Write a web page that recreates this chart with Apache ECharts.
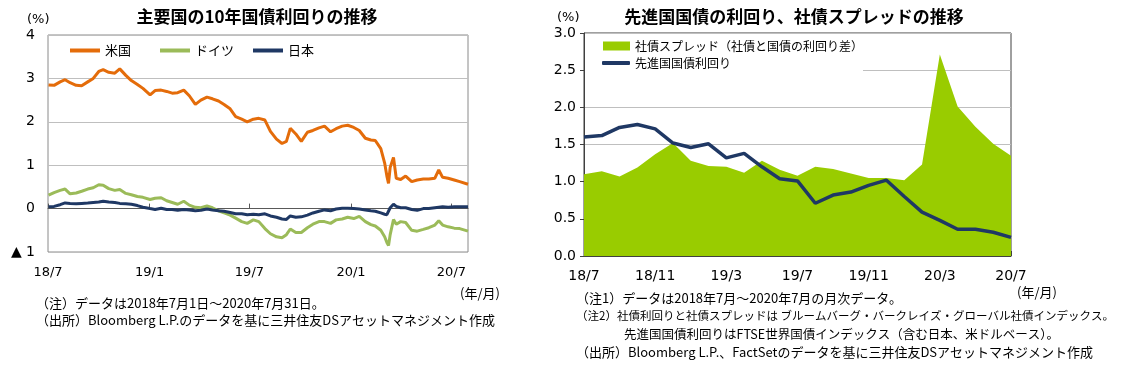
<!DOCTYPE html>
<html><head><meta charset="utf-8">
<script src="https://cdn.jsdelivr.net/npm/echarts@6/dist/echarts.min.js"></script>
<style>html,body{margin:0;padding:0;background:#fff}#c{width:1138px;height:365px}</style>
</head><body><div id="c"></div>
<script>
// ---- Left chart: 10-year government bond yields (%) ----
const dates = ['2018-07-02','2018-07-12','2018-07-23','2018-08-01','2018-08-10','2018-08-21','2018-08-31','2018-09-11','2018-09-21','2018-10-01',
'2018-10-09','2018-10-19','2018-10-30','2018-11-08','2018-11-19','2018-11-29','2018-12-10','2018-12-20','2019-01-02','2019-01-11',
'2019-01-22','2019-02-01','2019-02-11','2019-02-21','2019-03-04','2019-03-14','2019-03-25','2019-04-04','2019-04-15','2019-04-25',
'2019-05-06','2019-05-16','2019-05-27','2019-06-06','2019-06-17','2019-06-27','2019-07-08','2019-07-18','2019-07-29','2019-08-08',
'2019-08-19','2019-08-29','2019-09-06','2019-09-13','2019-09-23','2019-10-03','2019-10-14','2019-10-24','2019-11-04','2019-11-14',
'2019-11-25','2019-12-05','2019-12-16','2019-12-26','2020-01-06','2020-01-16','2020-01-27','2020-02-06','2020-02-14','2020-02-24',
'2020-03-02','2020-03-06','2020-03-09','2020-03-12','2020-03-18','2020-03-23','2020-03-31','2020-04-09','2020-04-20','2020-04-30',
'2020-05-11','2020-05-21','2020-06-01','2020-06-08','2020-06-15','2020-06-25','2020-07-06','2020-07-16','2020-07-31'];
const us = [2.85,2.84,2.92,2.97,2.90,2.84,2.83,2.92,3.00,3.16,
3.20,3.14,3.12,3.22,3.07,2.95,2.86,2.77,2.62,2.72,
2.73,2.70,2.66,2.67,2.73,2.60,2.40,2.50,2.57,2.53,
2.48,2.40,2.30,2.12,2.06,2.00,2.06,2.08,2.04,1.78,
1.60,1.50,1.55,1.85,1.72,1.55,1.76,1.80,1.86,1.90,
1.77,1.84,1.90,1.92,1.87,1.80,1.62,1.58,1.57,1.38,
1.05,0.75,0.58,0.95,1.18,0.70,0.67,0.75,0.62,0.66,
0.68,0.68,0.70,0.89,0.72,0.70,0.66,0.62,0.56];
const de = [0.31,0.37,0.42,0.45,0.34,0.36,0.40,0.45,0.48,0.55,
0.54,0.46,0.42,0.44,0.35,0.32,0.28,0.26,0.21,0.24,
0.25,0.18,0.14,0.10,0.17,0.08,0.03,0.02,0.06,0.02,
-0.05,-0.10,-0.15,-0.22,-0.30,-0.34,-0.26,-0.30,-0.46,-0.58,
-0.65,-0.67,-0.60,-0.47,-0.55,-0.55,-0.44,-0.36,-0.30,-0.30,
-0.34,-0.26,-0.24,-0.20,-0.23,-0.18,-0.30,-0.37,-0.40,-0.50,
-0.65,-0.78,-0.85,-0.60,-0.25,-0.36,-0.30,-0.32,-0.50,-0.52,
-0.48,-0.44,-0.38,-0.28,-0.38,-0.42,-0.45,-0.46,-0.52];
const jp = [0.04,0.05,0.09,0.13,0.12,0.11,0.12,0.13,0.14,0.15,
0.17,0.15,0.14,0.12,0.11,0.10,0.07,0.03,0.00,-0.02,
0.01,-0.02,-0.02,-0.04,-0.02,-0.03,-0.05,-0.04,-0.01,-0.03,
-0.05,-0.06,-0.09,-0.12,-0.12,-0.14,-0.13,-0.14,-0.12,-0.17,
-0.20,-0.24,-0.25,-0.17,-0.20,-0.19,-0.15,-0.10,-0.06,-0.03,
-0.05,-0.01,0.01,0.01,0.00,-0.01,-0.03,-0.05,-0.06,-0.10,
-0.13,-0.14,-0.12,0.02,0.10,0.05,0.02,0.02,-0.02,-0.04,
0.00,0.00,0.02,0.03,0.04,0.03,0.04,0.04,0.04];
const leftTickDates = ['2018-07-01','2019-01-01','2019-07-01','2020-01-01','2020-07-01'];
const leftTickLabels = ['18/7','19/1','19/7','20/1','20/7'];

// ---- Right chart: monthly, 2018/7 - 2020/7 ----
const months = ['18/7','18/8','18/9','18/10','18/11','18/12','19/1','19/2','19/3','19/4','19/5','19/6','19/7',
'19/8','19/9','19/10','19/11','19/12','20/1','20/2','20/3','20/4','20/5','20/6','20/7'];
const spread = [1.10,1.14,1.07,1.19,1.37,1.52,1.28,1.21,1.20,1.12,1.28,1.16,1.08,
1.20,1.17,1.11,1.05,1.05,1.02,1.23,2.71,2.01,1.74,1.51,1.35];
const govYield = [1.60,1.62,1.73,1.77,1.71,1.52,1.46,1.51,1.32,1.38,1.20,1.04,1.01,
0.71,0.82,0.86,0.95,1.02,0.80,0.59,0.48,0.36,0.36,0.32,0.25];

const FONT = '"DejaVu Sans", "Noto Sans CJK JP", sans-serif';
const JFONT = '"Noto Sans CJK JP", sans-serif';
const NAVY = '#1F3864';
const toTs = d => Date.UTC(+d.slice(0,4), +d.slice(5,7)-1, +d.slice(8,10));
const leftTicks = leftTickDates.map(toTs);

function pairs(vals){ return dates.map((d,i)=>[toTs(d), vals[i]]); }

const chart = echarts.init(document.getElementById('c'), null, {renderer:'canvas'});
function txt(x, y, text, opt){
  opt = opt || {};
  return {type:'text', x:x, y:y, silent:true, style:{text:text, fill:'#000',
    font:(opt.bold?'bold ':'') + (opt.size||13) + 'px ' + (opt.font||FONT),
    align:opt.align||'left', verticalAlign:'middle'}};
}
const legendText = {fontSize:13, color:'#000', fontFamily:JFONT};
const legendText2 = {fontSize:12, color:'#000', fontFamily:JFONT};
const option = {
  animation:false,
  textStyle:{fontFamily:FONT},
  grid:[
    {left:48, right:670, top:35, bottom:113, show:true, borderColor:'#8a8a8a', borderWidth:1},
    {left:584, right:127, top:33, bottom:109, show:true, borderColor:'#404040', borderWidth:1}
  ],
  legend:[
    {data:['米国'], left:70, top:44, icon:'rect', itemWidth:30, itemHeight:4, textStyle:legendText, padding:0},
    {data:['ドイツ'], left:160, top:44, icon:'rect', itemWidth:30, itemHeight:4, textStyle:legendText, padding:0},
    {data:['日本'], left:253, top:44, icon:'rect', itemWidth:30, itemHeight:4, textStyle:legendText, padding:0},
    {data:['社債スプレッド（社債と国債の利回り差）'], left:585, top:36, icon:'rect', itemWidth:27, itemHeight:9,
      backgroundColor:'#fff', padding:[4,0,26,18], textStyle:legendText2},
    {data:['先進国国債利回り'], left:602, top:57, icon:'roundRect', itemWidth:28, itemHeight:4, padding:0, textStyle:legendText2}
  ],
  xAxis:[
    {type:'value', gridIndex:0, min:toTs('2018-07-01'), max:toTs('2020-07-31'),
     axisLine:{show:true, lineStyle:{color:'#595959'}},
     axisTick:{show:true, inside:true, length:5, customValues:leftTicks, lineStyle:{color:'#595959'}},
     axisLabel:{customValues:leftTicks, fontSize:13, color:'#000', margin:14, showMinLabel:true, showMaxLabel:true,
       formatter:function(v){ const i = leftTicks.indexOf(v); return i>=0 ? leftTickLabels[i] : ''; }},
     splitLine:{show:false}},
    {type:'category', gridIndex:1, data:months, boundaryGap:false,
     axisLine:{show:true, lineStyle:{color:'#404040'}},
     axisTick:{show:true, inside:true, length:5, interval:3, lineStyle:{color:'#404040'}},
     axisLabel:{interval:3, fontSize:14, color:'#000', margin:13},
     splitLine:{show:false}}
  ],
  yAxis:[
    {type:'value', gridIndex:0, min:-1, max:4, interval:1,
     axisLine:{show:false}, axisTick:{show:false},
     axisLabel:{fontSize:14, color:'#000', margin:13, formatter:v=> v<0 ? '▲ ' + (-v) : String(v)},
     splitLine:{show:true, lineStyle:{color:'#BFBFBF', width:1}}},
    {type:'value', gridIndex:1, min:0, max:3, interval:0.5,
     axisLine:{show:true, lineStyle:{color:'#404040'}},
     axisTick:{show:true, length:4, lineStyle:{color:'#404040'}},
     axisLabel:{fontSize:14, color:'#000', margin:8, formatter:v=>v.toFixed(1)},
     splitLine:{show:true, lineStyle:{color:'#BFBFBF', width:1}}}
  ],
  series:[
    {name:'米国', type:'line', xAxisIndex:0, yAxisIndex:0, data:pairs(us), symbol:'none', color:'#E46C0A', lineStyle:{width:3, color:'#E46C0A'}},
    {name:'ドイツ', type:'line', xAxisIndex:0, yAxisIndex:0, data:pairs(de), symbol:'none', color:'#9BBB59', lineStyle:{width:3, color:'#9BBB59'}},
    {name:'日本', type:'line', xAxisIndex:0, yAxisIndex:0, data:pairs(jp), symbol:'none', color:NAVY, lineStyle:{width:3, color:NAVY}},
    {name:'社債スプレッド（社債と国債の利回り差）', type:'line', xAxisIndex:1, yAxisIndex:1, data:spread, symbol:'none',
      color:'#99CC00', lineStyle:{width:0, color:'#99CC00'}, areaStyle:{color:'#99CC00', opacity:1}},
    {name:'先進国国債利回り', type:'line', xAxisIndex:1, yAxisIndex:1, data:govYield, symbol:'none',
      color:NAVY, lineStyle:{width:3.5, color:NAVY}, z:3}
  ],
  graphic:[
    txt(257, 17, '主要国の10年国債利回りの推移', {bold:true, size:17, align:'center', font:JFONT}),
    txt(794, 17, '先進国国債の利回り、社債スプレッドの推移', {bold:true, size:17, align:'center', font:JFONT}),
    txt(27, 20, '(%)', {size:13}),
    txt(557, 18, '(%)', {size:13}),
    txt(460, 293, '(年/月)', {size:13, font:JFONT}),
    txt(1017, 292, '(年/月)', {size:13, font:JFONT}),
    txt(36, 303, '（注）データは2018年7月1日～2020年7月31日。', {size:13, font:JFONT}),
    txt(36, 320, '（出所）Bloomberg L.P.のデータを基に三井住友DSアセットマネジメント作成', {size:13, font:JFONT}),
    txt(576, 298, '（注1）データは2018年7月～2020年7月の月次データ。', {size:13, font:JFONT}),
    txt(576, 316, '（注2）社債利回りと社債スプレッドは ブルームバーグ・バークレイズ・グローバル社債インデックス。', {size:11.5, font:JFONT}),
    txt(624, 334, '先進国国債利回りはFTSE世界国債インデックス（含む日本、米ドルベース）。', {size:12.5, font:JFONT}),
    txt(576, 352, '（出所）Bloomberg L.P.、FactSetのデータを基に三井住友DSアセットマネジメント作成', {size:13, font:JFONT})
  ]
};
chart.setOption(option);
</script></body></html>
